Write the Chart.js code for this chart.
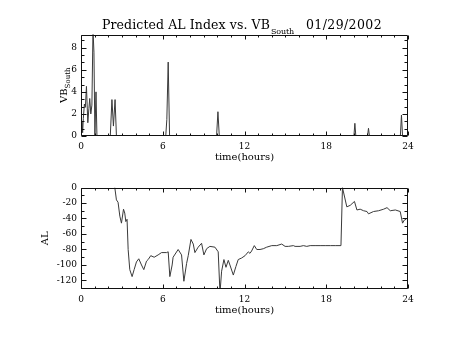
<!DOCTYPE html>
<html>
<head>
<meta charset="utf-8">
<script src="https://cdn.jsdelivr.net/npm/chart.js@4.4.1/dist/chart.umd.min.js"></script>
<style>
  html, body { margin: 0; padding: 0; background: #fff; }
  #wrap { position: relative; width: 454px; height: 341px; overflow: hidden; }
  canvas { position: absolute; left: 0; }
</style>
</head>
<body>
<div id="wrap">
  <canvas id="vbChart" width="454" height="170" style="top:0px"></canvas>
  <canvas id="alChart" width="454" height="170" style="top:153px"></canvas>
</div>
<script>
// time axis
const hourTicks = [0, 6, 12, 18, 24];

// VB south (top panel)
const vbHours = [0, 0.07, 0.12, 0.17, 0.25, 0.32, 0.4, 0.5, 0.58, 0.64, 0.72, 0.8, 0.88, 0.95, 1.02, 1.1, 1.17,
  2.15, 2.27, 2.38, 2.5, 2.6, 6.22, 6.3, 6.4, 6.5, 9.95, 10.05, 10.15,
  20.03, 20.1, 20.17, 21.03, 21.1, 21.17, 23.44, 23.52, 23.6, 24];
const vbValues = [0.5, 1.3, 0.3, 1.6, 2.9, 2.6, 4.5, 1.2, 2.5, 3.4, 2.0, 2.8, 9.6, 7.6, 0, 4.0, 0,
  0, 3.3, 0.9, 3.3, 0, 0, 1.5, 6.7, 0, 0, 2.2, 0,
  0, 1.15, 0, 0, 0.7, 0, 0, 1.9, 0, 0];
const vbTicks = [0, 2, 4, 6, 8];

// predicted AL (bottom panel)
const alHours = [2.48, 2.6, 2.72, 2.85, 2.97, 3.12, 3.21, 3.29, 3.38, 3.46, 3.58, 3.75, 3.9, 4.07, 4.24, 4.44,
  4.61, 4.81, 4.93, 5.12, 5.37, 5.66, 5.91, 6.28, 6.4, 6.52, 6.69, 6.76, 7.13, 7.38, 7.55, 7.75, 7.87,
  8.07, 8.24, 8.36, 8.6, 8.85, 9.02, 9.22, 9.46, 9.83, 10.07, 10.2, 10.32, 10.49, 10.64, 10.81, 10.93,
  11.18, 11.37, 11.54, 11.79, 12.04, 12.28, 12.4, 12.52, 12.72, 12.9, 13.14, 13.38, 13.63, 14.0, 14.37,
  14.73, 14.98, 15.22, 15.59, 15.71, 16.08, 16.32, 16.57, 16.82, 17.18, 17.55, 17.92, 18.3, 18.7, 19.08,
  19.19, 19.51, 19.76, 20.07, 20.25, 20.49, 20.74, 20.99, 21.1, 21.47, 21.84, 22.21, 22.46, 22.7, 23.07,
  23.43, 23.6, 23.73, 23.87];
const alValues = [0, -16, -19, -37, -46, -28, -33, -44, -41, -80, -106, -115, -106, -96, -92, -100,
  -106, -95, -93, -88, -90, -87, -84, -84, -83, -115, -100, -90, -80, -87, -121, -98, -88,
  -67, -73, -84, -77, -72, -87, -79, -76, -77, -83, -136, -108, -93, -103, -94, -100,
  -113, -102, -93, -91, -88, -83, -85, -82, -75, -80, -80, -79, -77, -75, -75,
  -73, -76, -76, -75, -76, -76, -75, -76, -75, -75, -75, -75, -75, -75, -75,
  0, -25, -23, -18, -29, -28, -30, -31, -34, -31, -30, -28, -26, -30, -29,
  -31, -46, -42, -41];
const alTicks = [0, -20, -40, -60, -80, -100, -120];

const serif = 'DejaVu Serif';
const tickFont = { family: serif, size: 9 };

function isMultiple(v, step) {
  return Math.abs(v / step - Math.round(v / step)) < 1e-6;
}

// IDL style box with inward major / minor ticks on all four sides
const idlFrame = {
  id: 'idlFrame',
  afterDatasetsDraw(chart, args, opts) {
    const { ctx, chartArea: a, scales: { x, y } } = chart;
    const L = Math.round(a.left) + 0.5, R = Math.round(a.right) - 0.5;
    const T = Math.round(a.top) + 0.5, B = Math.round(a.bottom) - 0.5;
    ctx.save();
    ctx.strokeStyle = '#111';
    ctx.lineWidth = 1;
    ctx.beginPath();
    ctx.rect(L, T, R - L, B - T);
    const xs = Math.ceil(x.min / opts.xMinor - 1e-6);
    for (let i = xs; i * opts.xMinor <= x.max + 1e-6; i++) {
      const v = i * opts.xMinor;
      const px = Math.round(x.getPixelForValue(v)) + 0.5;
      const len = isMultiple(v, opts.xMajor) ? 4 : 2;
      ctx.moveTo(px, B); ctx.lineTo(px, B - len);
      ctx.moveTo(px, T); ctx.lineTo(px, T + len);
    }
    const ys = Math.ceil(y.min / opts.yMinor - 1e-6);
    for (let i = ys; i * opts.yMinor <= y.max + 1e-6; i++) {
      const v = i * opts.yMinor;
      const py = Math.round(y.getPixelForValue(v)) + 0.5;
      const len = isMultiple(v, opts.yMajor) ? 5 : 3;
      ctx.moveTo(L, py); ctx.lineTo(L + len, py);
      ctx.moveTo(R, py); ctx.lineTo(R - len, py);
    }
    ctx.stroke();
    ctx.restore();
  }
};

// draw text stretched to a target width (vector font look)
function fitText(ctx, text, x, y, width) {
  ctx.letterSpacing = '0px';
  const w = ctx.measureText(text).width;
  ctx.letterSpacing = ((width - w) / text.length) + 'px';
  ctx.fillText(text, x, y);
  ctx.letterSpacing = '0px';
}

// rotated y title with subscript, optional main title
const idlLabels = {
  id: 'idlLabels',
  afterDraw(chart, args, opts) {
    const { ctx, chartArea: a } = chart;
    ctx.save();
    ctx.fillStyle = '#000';
    ctx.textBaseline = 'alphabetic';
    ctx.textAlign = 'left';
    if (opts.title) {
      ctx.font = '12.5px "' + serif + '"';
      fitText(ctx, opts.title, 102, 29, 168);
      ctx.font = '8px "' + serif + '"';
      fitText(ctx, opts.titleSub, 271, 34, 23);
      ctx.font = '12.5px "' + serif + '"';
      fitText(ctx, opts.date, 306, 29, 76);
    }
    ctx.translate(opts.yTitleX, (a.top + a.bottom) / 2);
    ctx.rotate(-Math.PI / 2);
    ctx.font = '10px "' + serif + '"';
    const w1 = ctx.measureText(opts.yMain).width;
    ctx.font = '7px "' + serif + '"';
    const w2 = opts.ySub ? ctx.measureText(opts.ySub).width : 0;
    const sx = -(w1 + w2) / 2;
    ctx.font = '10px "' + serif + '"';
    ctx.fillText(opts.yMain, sx, 0);
    if (opts.ySub) {
      ctx.font = '7px "' + serif + '"';
      ctx.fillText(opts.ySub, sx + w1, 3);
    }
    ctx.restore();
  }
};

function timeAxis() {
  return {
    type: 'linear', min: 0, max: 24,
    afterBuildTicks: s => { s.ticks = hourTicks.map(v => ({ value: v })); },
    afterFit: s => { s.height = 34; },
    grid: { display: false, drawTicks: false },
    border: { display: false },
    ticks: { font: tickFont, color: '#000', padding: 5, maxRotation: 0, autoSkip: false },
    title: { display: true, text: 'time(hours)', color: '#000',
             font: { family: serif, size: 10 }, padding: { top: 0, bottom: 7 } }
  };
}

function valueAxis(min, max, ticks) {
  return {
    type: 'linear', min: min, max: max,
    afterBuildTicks: s => { s.ticks = ticks.map(v => ({ value: v })); },
    afterFit: s => { s.width = 81; },
    grid: { display: false, drawTicks: false },
    border: { display: false },
    ticks: { font: tickFont, color: '#000', padding: 4, autoSkip: false }
  };
}

function makeChart(id, hours, values, yMin, yMax, yTicks, frame, labels) {
  return new Chart(document.getElementById(id), {
    type: 'line',
    data: {
      datasets: [{
        data: hours.map((h, i) => ({ x: h, y: values[i] })),
        borderColor: '#3a3a3a',
        borderWidth: 1,
        pointRadius: 0,
        tension: 0,
        fill: false
      }]
    },
    options: {
      responsive: false,
      animation: false,
      devicePixelRatio: 1,
      events: [],
      layout: { padding: { left: 0, right: 46, top: 34.5, bottom: 0 } },
      plugins: {
        legend: { display: false },
        tooltip: { enabled: false },
        idlFrame: frame,
        idlLabels: labels
      },
      scales: { x: timeAxis(), y: valueAxis(yMin, yMax, yTicks) }
    },
    plugins: [idlFrame, idlLabels]
  });
}

makeChart('vbChart', vbHours, vbValues, 0, 9.2, vbTicks,
  { xMinor: 1, xMajor: 6, yMinor: 2 / 3, yMajor: 2 },
  { title: 'Predicted AL Index vs. VB', titleSub: 'South', date: '01/29/2002',
    yMain: 'VB', ySub: 'South', yTitleX: 66.5 });

makeChart('alChart', alHours, alValues, -131, 0, alTicks,
  { xMinor: 1, xMajor: 6, yMinor: 10, yMajor: 20 },
  { yMain: 'AL', ySub: '', yTitleX: 48 });
</script>
</body>
</html>
